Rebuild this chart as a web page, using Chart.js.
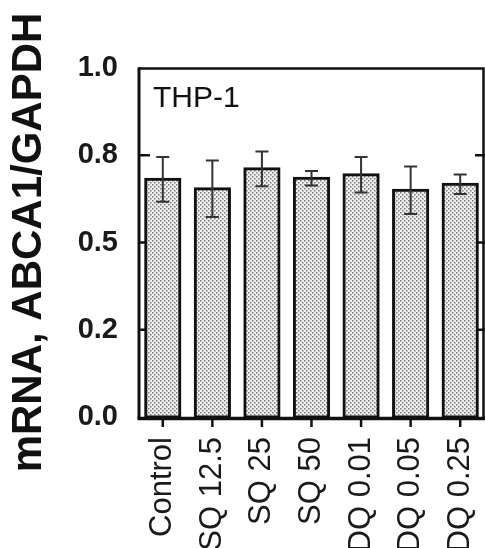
<!DOCTYPE html>
<html>
<head>
<meta charset="utf-8">
<script src="https://cdn.jsdelivr.net/npm/chart.js@4.4.1/dist/chart.umd.min.js"></script>
<style>
  html, body { margin: 0; padding: 0; background: #fff; }
  #wrap { width: 485px; height: 548px; }
</style>
</head>
<body>
<div id="wrap"><canvas id="c" width="485" height="548"></canvas></div>
<script>
const categories = ['Control', 'SQ 12.5', 'SQ 25', 'SQ 50', 'DQ 0.01', 'DQ 0.05', 'DQ 0.25'];
const means = [0.681, 0.654, 0.711, 0.684, 0.694, 0.650, 0.667];
const errors = [0.064, 0.081, 0.050, 0.021, 0.051, 0.068, 0.028];
const yTickValues = [0, 0.25, 0.5, 0.75, 1.0];
const yTickLabels = ['0.0', '0.2', '0.5', '0.8', '1.0'];
const panelLabel = 'THP-1';
const yTitle = 'mRNA, ABCA1/GAPDH';

function makePattern() {
  const t = document.createElement('canvas');
  t.width = 4; t.height = 4;
  const g = t.getContext('2d');
  g.fillStyle = '#efefef';
  g.fillRect(0, 0, 4, 4);
  g.fillStyle = '#7a7a7a';
  g.fillRect(0, 0, 1.5, 1.5);
  g.fillRect(2, 2, 1.5, 1.5);
  return document.getElementById('c').getContext('2d').createPattern(t, 'repeat');
}

const framePlugin = {
  id: 'frame',
  beforeDatasetsDraw(chart) {
    const ctx = chart.ctx, a = chart.chartArea, y = chart.scales.y;
    ctx.save();
    ctx.strokeStyle = '#111';
    ctx.lineWidth = 2.5;
    yTickValues.forEach(v => {
      if (v === 0 || v === 1) return;
      const py = y.getPixelForValue(v);
      ctx.beginPath(); ctx.moveTo(a.left, py); ctx.lineTo(a.left + 12, py); ctx.stroke();
      ctx.beginPath(); ctx.moveTo(a.right, py); ctx.lineTo(a.right - 10, py); ctx.stroke();
    });
    ctx.fillStyle = '#111';
    ctx.font = '30px "Liberation Sans", Arial, sans-serif';
    ctx.textAlign = 'left';
    ctx.textBaseline = 'alphabetic';
    ctx.fillText(panelLabel, a.left + 15, a.top + 39);
    ctx.restore();
  },
  afterDatasetsDraw(chart) {
    const ctx = chart.ctx, a = chart.chartArea, y = chart.scales.y, x = chart.scales.x;
    const meta = chart.getDatasetMeta(0);
    ctx.save();
    ctx.strokeStyle = '#333';
    ctx.lineWidth = 2;
    meta.data.forEach((bar, i) => {
      const top = y.getPixelForValue(means[i] + errors[i]);
      const bot = y.getPixelForValue(means[i] - errors[i]);
      const cx = bar.x, hw = 6.5;
      ctx.beginPath();
      ctx.moveTo(cx, top); ctx.lineTo(cx, bot);
      ctx.moveTo(cx - hw, top); ctx.lineTo(cx + hw, top);
      ctx.moveTo(cx - hw, bot); ctx.lineTo(cx + hw, bot);
      ctx.stroke();
    });
    ctx.strokeStyle = '#111';
    ctx.lineWidth = 2.5;
    ctx.beginPath();
    ctx.moveTo(a.left + 1, a.top + 0.5); ctx.lineTo(a.right - 1.5, a.top + 0.5); ctx.lineTo(a.right - 1.5, a.bottom);
    ctx.stroke();
    ctx.lineWidth = 3;
    ctx.beginPath();
    ctx.moveTo(a.left + 1, a.top - 0.7); ctx.lineTo(a.left + 1, a.bottom + 1.5);
    ctx.stroke();
    ctx.lineWidth = 3.5;
    ctx.beginPath();
    ctx.moveTo(a.left - 0.5, a.bottom + 1.5); ctx.lineTo(a.right, a.bottom + 1.5);
    ctx.stroke();
    ctx.lineWidth = 2.5;
    categories.forEach((c, i) => {
      const px = x.getPixelForValue(i);
      ctx.beginPath(); ctx.moveTo(px, a.bottom + 2); ctx.lineTo(px, a.bottom + 10); ctx.stroke();
    });
    ctx.restore();
  }
};

new Chart(document.getElementById('c'), {
  type: 'bar',
  data: {
    labels: categories,
    datasets: [{
      data: means,
      backgroundColor: makePattern(),
      borderColor: '#111',
      borderWidth: 3,
      borderSkipped: false,
      inflateAmount: 1.5,
      categoryPercentage: 1.0,
      barPercentage: 0.69
    }]
  },
  plugins: [framePlugin],
  options: {
    responsive: false,
    animation: false,
    devicePixelRatio: 1,
    layout: { padding: { top: 68, left: 0, right: 0, bottom: 0 } },
    plugins: { legend: { display: false }, tooltip: { enabled: false } },
    scales: {
      x: {
        grid: { display: false, drawTicks: false },
        border: { display: false },
        afterFit(s) { s.height = 131; s.paddingLeft = 0; s.paddingRight = 0; },
        ticks: {
          autoSkip: false,
          maxRotation: 90,
          minRotation: 90,
          padding: 20,
          color: '#1a1a1a',
          font: { family: '"Liberation Sans", Arial, sans-serif', size: 31 }
        }
      },
      y: {
        min: 0,
        max: 1,
        afterBuildTicks(s) { s.ticks = yTickValues.map(v => ({ value: v })); },
        afterFit(s) { s.width = 138; s.paddingTop = 0; s.paddingBottom = 0; },
        grid: { display: false, drawTicks: false },
        border: { display: false },
        ticks: {
          padding: 20,
          color: '#1a1a1a',
          font: { family: '"Liberation Sans", Arial, sans-serif', size: 29, weight: 'bold' },
          callback(v, i) { return yTickLabels[i]; }
        },
        title: {
          display: true,
          text: yTitle,
          color: '#111',
          padding: { top: 4, bottom: 0 },
          font: { family: '"Liberation Sans", Arial, sans-serif', size: 42, weight: 'bold' }
        }
      }
    }
  }
});
</script>
</body>
</html>
